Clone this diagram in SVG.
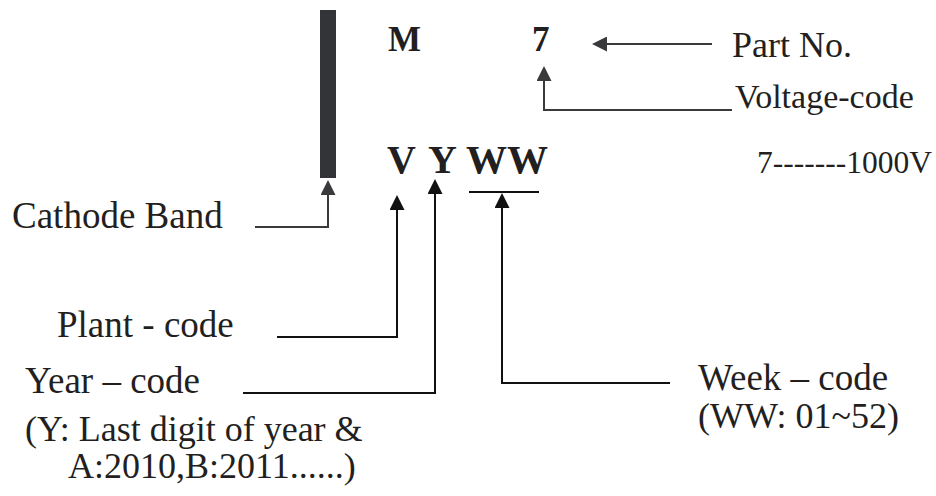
<svg xmlns="http://www.w3.org/2000/svg" width="936" height="496" viewBox="0 0 936 496">
<style>
text{font-family:"Liberation Serif","Times New Roman",serif;fill:#231f20}
.lbl{font-size:37px}
.big{font-size:40px;font-weight:bold}
.mid{font-size:35px;font-weight:bold}
.small{font-size:31.5px}
.c{fill:none;stroke:#111;stroke-width:2}
.g{fill:none;stroke:#3a3a3c;stroke-width:2}
</style>
<defs>
<marker id="ab" viewBox="0 0 16 16" refX="0" refY="8" markerWidth="16" markerHeight="15" orient="auto" markerUnits="userSpaceOnUse"><path d="M0,0 L16,8 L0,16 z" fill="#111"/></marker>
<marker id="ag" viewBox="0 0 16 16" refX="0" refY="8" markerWidth="16" markerHeight="15" orient="auto" markerUnits="userSpaceOnUse"><path d="M0,0 L16,8 L0,16 z" fill="#3a3a3c"/></marker>
</defs>
<rect width="936" height="496" fill="#fff"/>
<g id="band"><rect x="320" y="10" width="16" height="168" fill="#333437"/></g>
<g id="marking">
<text class="mid" x="388" y="51">M</text>
<text class="mid" x="532" y="51">7</text>
<text class="big" x="387" y="173">V</text>
<text class="big" x="428" y="173">Y</text>
<text class="big" x="466" y="173" style="font-size:41px">WW</text>
</g>
<g id="partno"><text class="lbl" x="732" y="57" style="font-size:36px">Part No.</text></g>
<g id="voltage"><text class="lbl" x="735" y="108" style="font-size:34px">Voltage-code</text></g>
<g id="voltage-table"><text class="small" x="757" y="173">7-------1000V</text></g>
<g id="cathode"><text class="lbl" x="12" y="228">Cathode Band</text></g>
<g id="plant"><text class="lbl" x="57" y="337">Plant - code</text></g>
<g id="year"><text class="lbl" x="25" y="393">Year – code</text>
<text class="lbl" x="25" y="441" style="font-size:36px">(Y: Last digit of year &amp;</text>
<text class="lbl" x="68" y="478" style="font-size:36px">A:2010,B:2011......)</text></g>
<g id="week"><text class="lbl" x="698" y="390">Week – code</text>
<text class="lbl" x="698" y="428" style="font-size:36px">(WW: 01~52)</text></g>
<g id="connectors">
<path class="g" d="M255,227 H328 V195" marker-end="url(#ag)"/>
<path class="c" d="M277,337 H397 V210" marker-end="url(#ab)"/>
<path class="c" d="M243,393 H435 V194" marker-end="url(#ab)"/>
<path class="c" d="M670,383 H502 V208" marker-end="url(#ab)"/>
<path class="c" d="M469,192 H539"/>
<path class="g" d="M732,110 H544 V81" marker-end="url(#ag)"/>
<path class="g" d="M712,44 H607" marker-end="url(#ag)"/>
</g>
</svg>
